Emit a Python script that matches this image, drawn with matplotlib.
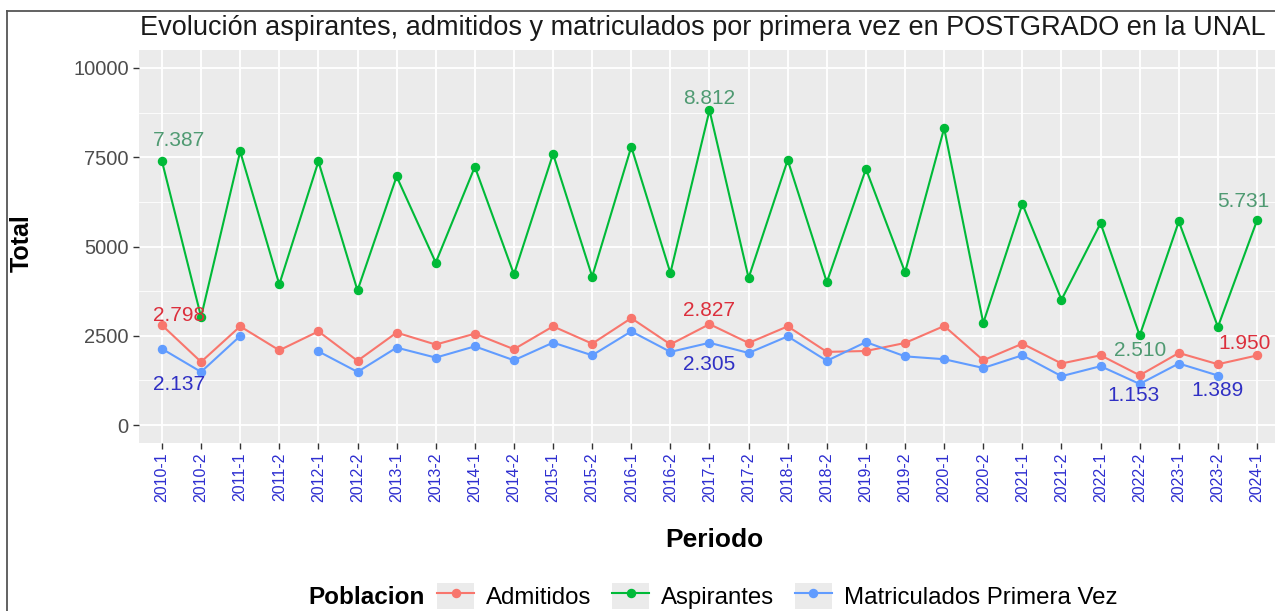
import numpy as np
import matplotlib
matplotlib.use("Agg")
import matplotlib.pyplot as plt
from matplotlib.lines import Line2D
from matplotlib.patches import Patch
from matplotlib.legend_handler import HandlerTuple

plt.rcParams['font.family'] = ['Liberation Sans', 'DejaVu Sans']

periodos = ["2010-1", "2010-2", "2011-1", "2011-2", "2012-1", "2012-2", "2013-1", "2013-2",
            "2014-1", "2014-2", "2015-1", "2015-2", "2016-1", "2016-2", "2017-1", "2017-2",
            "2018-1", "2018-2", "2019-1", "2019-2", "2020-1", "2020-2", "2021-1", "2021-2",
            "2022-1", "2022-2", "2023-1", "2023-2", "2024-1"]

aspirantes = [7387, 3030, 7660, 3940, 7380, 3770, 6960, 4550, 7230, 4220,
              7590, 4160, 7790, 4260, 8812, 4120, 7420, 4000, 7170, 4280,
              8310, 2860, 6190, 3510, 5650, 2510, 5700, 2750, 5731]
admitidos = [2798, 1770, 2765, 2095, 2625, 1800, 2590, 2255, 2560, 2125,
             2765, 2280, 2995, 2260, 2827, 2300, 2765, 2050, 2075, 2300,
             2775, 1815, 2280, 1725, 1955, 1395, 2020, 1705, 1950]
matriculados = [2137, 1490, 2495, np.nan, 2065, 1490, 2170, 1890, 2205, 1815,
                2310, 1955, 2625, 2050, 2305, 2020, 2485, 1800, 2325, 1925,
                1845, 1600, 1955, 1370, 1650, 1153, 1725, 1389, np.nan]

series = [("Admitidos", admitidos, "#F8766D"),
          ("Aspirantes", aspirantes, "#00BA38"),
          ("Matriculados Primera Vez", matriculados, "#619CFF")]

# etiquetas: (serie, periodo, color texto, desplazamiento en px)
etiquetas = [
    ("Aspirantes", "2010-1", "#4f9a72", (17, 21)),
    ("Aspirantes", "2017-1", "#4f9a72", (0, 12)),
    ("Aspirantes", "2022-2", "#4f9a72", (0, -15)),
    ("Aspirantes", "2024-1", "#4f9a72", (-14, 19)),
    ("Admitidos", "2010-1", "#dc2f3c", (17, 10)),
    ("Admitidos", "2017-1", "#dc2f3c", (0, 14)),
    ("Admitidos", "2024-1", "#dc2f3c", (-12, 12)),
    ("Matriculados Primera Vez", "2010-1", "#3030c4", (17, -36)),
    ("Matriculados Primera Vez", "2017-1", "#3030c4", (0, -22)),
    ("Matriculados Primera Vez", "2022-2", "#3030c4", (-6, -12)),
    ("Matriculados Primera Vez", "2023-2", "#3030c4", (0, -15)),
]

W, H = 1275, 611
fig = plt.figure(figsize=(W / 100, H / 100), dpi=100)
ax = fig.add_axes([138.5 / W, 1 - 443 / H, 1142 / W, 393 / H])
ax.set_facecolor("#EBEBEB")

x = np.arange(len(periodos))
datos = {}
for nombre, vals, col in series:
    v = np.array(vals, dtype=float)
    datos[nombre] = v
    ax.plot(x, v, color=col, lw=1.5, marker="o", ms=5.8, zorder=3)

px = 72 / 100  # pixels -> points
for nombre, per, col, (dx, dy) in etiquetas:
    i = periodos.index(per)
    val = int(datos[nombre][i])
    txt = f"{val:,}".replace(",", ".")
    ax.annotate(txt, (x[i], val), xytext=(dx * px, dy * px), textcoords="offset points",
                ha="center", va="center", color=col, fontsize=15, zorder=4,
                annotation_clip=False)

ax.set_xlim(-0.6, len(periodos) - 0.4)
ax.set_ylim(-500, 10500)
ax.set_xticks(x)
ax.set_xticklabels(periodos, rotation=90, color="#2e2ed0", fontsize=11.5)
ax.set_yticks([0, 2500, 5000, 7500, 10000])
ax.set_yticks([1250, 3750, 6250, 8750], minor=True)
ax.tick_params(axis="y", which="major", labelsize=14.5, labelcolor="#4d4d4d", color="#333333",
               length=4, width=1, pad=3)
ax.tick_params(axis="y", which="minor", length=0)
ax.tick_params(axis="x", length=4, width=1, color="#333333", pad=3)
ax.grid(True, which="major", color="white", lw=1.3)
ax.grid(True, which="minor", axis="y", color="white", lw=0.6)
ax.set_axisbelow(True)
for s in ax.spines.values():
    s.set_visible(False)

fig.text(140 / W, 1 - 28 / H, "Evolución aspirantes, admitidos y matriculados por primera vez en POSTGRADO en la UNAL",
         ha="left", va="center", fontsize=19.5, color="#1a1a1a")
fig.text(22 / W, 1 - 243 / H, "Total", rotation=90, ha="center", va="center",
         fontsize=18, fontweight="bold", color="black")
fig.text(714 / W, 1 - 540 / H, "Periodo", ha="center", va="center",
         fontsize=19, fontweight="bold", color="black")

# leyenda
fig.text(308 / W, 1 - 597 / H, "Poblacion", ha="left", va="center",
         fontsize=17.5, fontweight="bold", color="black")
handles = []
for nombre, vals, col in series:
    fondo = Patch(facecolor="#EBEBEB", edgecolor="none")
    linea = Line2D([], [], color=col, lw=1.5, marker="o", ms=5.8)
    handles.append((fondo, linea))
fig.legend(handles, [s[0] for s in series], loc="center left",
           bbox_to_anchor=(437 / W, 1 - 596 / H), ncol=3, frameon=False,
           fontsize=17.3, handlelength=1.55, handleheight=1.35, handletextpad=0.5,
           columnspacing=0.85, borderpad=0, borderaxespad=0,
           handler_map={tuple: HandlerTuple(ndivide=1, pad=0)})

# marco de la captura
fig.add_artist(Line2D([7 / W, 1], [1 - 11 / H, 1 - 11 / H], color="#555555", lw=1.3))
fig.add_artist(Line2D([7 / W, 7 / W], [0, 1 - 11 / H], color="#555555", lw=1.3))

fig.savefig("out.png", dpi=100)
